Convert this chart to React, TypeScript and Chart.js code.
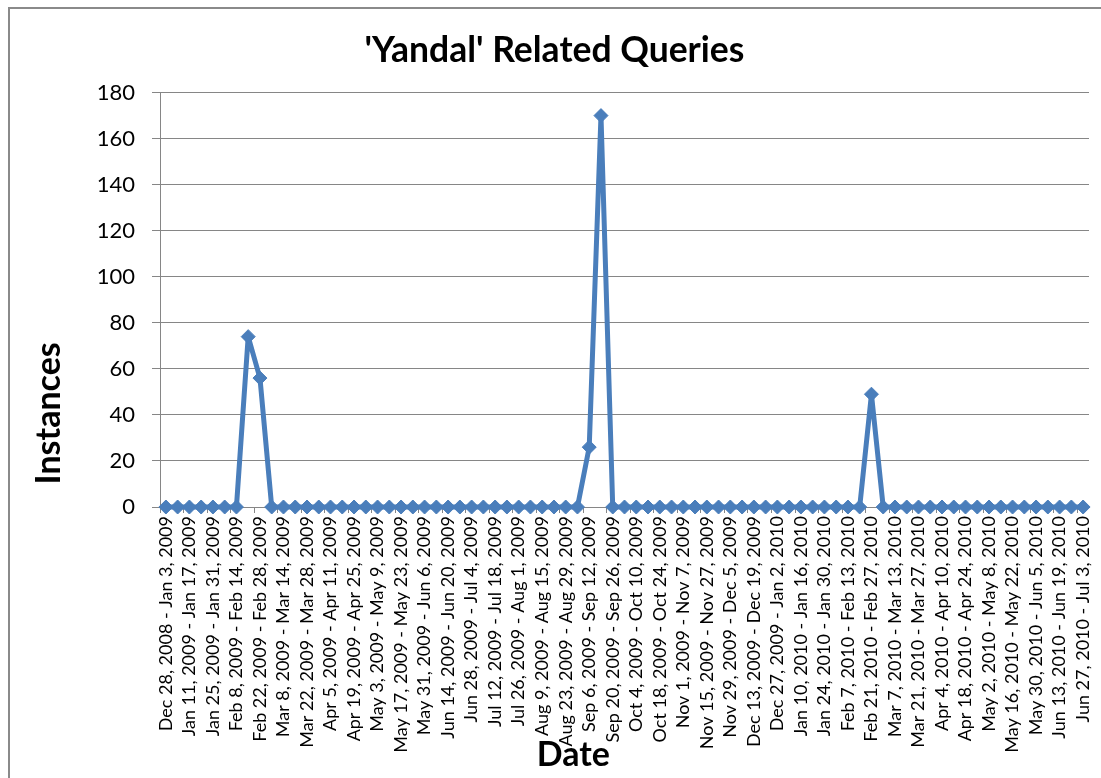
import React, { useEffect, useRef } from "react";
import { Chart, registerables } from "chart.js";

Chart.register(...registerables);

const TITLE = "'Yandal' Related Queries";
const X_TITLE = "Date";
const Y_TITLE = "Instances";

const WEEKS: string[] = [
  "Dec 28, 2008 - Jan 3, 2009",
  "Jan 4, 2009 - Jan 10, 2009",
  "Jan 11, 2009 - Jan 17, 2009",
  "Jan 18, 2009 - Jan 24, 2009",
  "Jan 25, 2009 - Jan 31, 2009",
  "Feb 1, 2009 - Feb 7, 2009",
  "Feb 8, 2009 - Feb 14, 2009",
  "Feb 15, 2009 - Feb 21, 2009",
  "Feb 22, 2009 - Feb 28, 2009",
  "Mar 1, 2009 - Mar 7, 2009",
  "Mar 8, 2009 - Mar 14, 2009",
  "Mar 15, 2009 - Mar 21, 2009",
  "Mar 22, 2009 - Mar 28, 2009",
  "Mar 29, 2009 - Apr 4, 2009",
  "Apr 5, 2009 - Apr 11, 2009",
  "Apr 12, 2009 - Apr 18, 2009",
  "Apr 19, 2009 - Apr 25, 2009",
  "Apr 26, 2009 - May 2, 2009",
  "May 3, 2009 - May 9, 2009",
  "May 10, 2009 - May 16, 2009",
  "May 17, 2009 - May 23, 2009",
  "May 24, 2009 - May 30, 2009",
  "May 31, 2009 - Jun 6, 2009",
  "Jun 7, 2009 - Jun 13, 2009",
  "Jun 14, 2009 - Jun 20, 2009",
  "Jun 21, 2009 - Jun 27, 2009",
  "Jun 28, 2009 - Jul 4, 2009",
  "Jul 5, 2009 - Jul 11, 2009",
  "Jul 12, 2009 - Jul 18, 2009",
  "Jul 19, 2009 - Jul 25, 2009",
  "Jul 26, 2009 - Aug 1, 2009",
  "Aug 2, 2009 - Aug 8, 2009",
  "Aug 9, 2009 - Aug 15, 2009",
  "Aug 16, 2009 - Aug 22, 2009",
  "Aug 23, 2009 - Aug 29, 2009",
  "Aug 30, 2009 - Sep 5, 2009",
  "Sep 6, 2009 - Sep 12, 2009",
  "Sep 13, 2009 - Sep 19, 2009",
  "Sep 20, 2009 - Sep 26, 2009",
  "Sep 27, 2009 - Oct 3, 2009",
  "Oct 4, 2009 - Oct 10, 2009",
  "Oct 11, 2009 - Oct 17, 2009",
  "Oct 18, 2009 - Oct 24, 2009",
  "Oct 25, 2009 - Oct 31, 2009",
  "Nov 1, 2009 - Nov 7, 2009",
  "Nov 8, 2009 - Nov 14, 2009",
  "Nov 15, 2009 - Nov 27, 2009",
  "Nov 22, 2009 - Nov 28, 2009",
  "Nov 29, 2009 - Dec 5, 2009",
  "Dec 6, 2009 - Dec 12, 2009",
  "Dec 13, 2009 - Dec 19, 2009",
  "Dec 20, 2009 - Dec 26, 2009",
  "Dec 27, 2009 - Jan 2, 2010",
  "Jan 3, 2010 - Jan 9, 2010",
  "Jan 10, 2010 - Jan 16, 2010",
  "Jan 17, 2010 - Jan 23, 2010",
  "Jan 24, 2010 - Jan 30, 2010",
  "Jan 31, 2010 - Feb 6, 2010",
  "Feb 7, 2010 - Feb 13, 2010",
  "Feb 14, 2010 - Feb 20, 2010",
  "Feb 21, 2010 - Feb 27, 2010",
  "Feb 28, 2010 - Mar 6, 2010",
  "Mar 7, 2010 - Mar 13, 2010",
  "Mar 14, 2010 - Mar 20, 2010",
  "Mar 21, 2010 - Mar 27, 2010",
  "Mar 28, 2010 - Apr 3, 2010",
  "Apr 4, 2010 - Apr 10, 2010",
  "Apr 11, 2010 - Apr 17, 2010",
  "Apr 18, 2010 - Apr 24, 2010",
  "Apr 25, 2010 - May 1, 2010",
  "May 2, 2010 - May 8, 2010",
  "May 9, 2010 - May 15, 2010",
  "May 16, 2010 - May 22, 2010",
  "May 23, 2010 - May 29, 2010",
  "May 30, 2010 - Jun 5, 2010",
  "Jun 6, 2010 - Jun 12, 2010",
  "Jun 13, 2010 - Jun 19, 2010",
  "Jun 20, 2010 - Jun 26, 2010",
  "Jun 27, 2010 - Jul 3, 2010",
];

const INSTANCES: number[] = [
  0, 0, 0, 0, 0, 0, 0, 74, 56, 0,
  0, 0, 0, 0, 0, 0, 0, 0, 0, 0,
  0, 0, 0, 0, 0, 0, 0, 0, 0, 0,
  0, 0, 0, 0, 0, 0, 26, 170, 0, 0,
  0, 0, 0, 0, 0, 0, 0, 0, 0, 0,
  0, 0, 0, 0, 0, 0, 0, 0, 0, 0,
  49, 0, 0, 0, 0, 0, 0, 0, 0, 0,
  0, 0, 0, 0, 0, 0, 0, 0, 0,
];

const Y_MIN = 0;
const Y_MAX = 180;
const Y_STEP = 20;

const LINE_COLOR = "#4A7EBB";
const GRID_COLOR = "#868686";
const FONT = "Lato, 'Noto Sans', sans-serif";

// Draws the two axis titles where the reference places them (manually positioned in the original).
const axisTitlesPlugin = {
  id: "axisTitles",
  afterDraw(chart: any) {
    const ctx = chart.ctx as CanvasRenderingContext2D;
    const area = chart.chartArea;
    ctx.save();
    ctx.fillStyle = "#000";
    ctx.font = `bold 34px ${FONT}`;
    ctx.textAlign = "center";
    ctx.textBaseline = "middle";
    // X title
    ctx.fillText(X_TITLE, area.left + (area.right - area.left) * 0.445, chart.height - 23);
    // Y title
    ctx.translate(49, area.top + (area.bottom - area.top) * 0.774);
    ctx.rotate(-Math.PI / 2);
    ctx.fillText(Y_TITLE, 0, 0);
    ctx.restore();
  },
};

export default function App() {
  const canvasRef = useRef<HTMLCanvasElement | null>(null);

  useEffect(() => {
    const canvas = canvasRef.current;
    if (!canvas) return;
    const chart = new Chart(canvas, {
      type: "line",
      data: {
        labels: WEEKS,
        datasets: [
          {
            label: "Instances",
            data: INSTANCES,
            borderColor: LINE_COLOR,
            backgroundColor: LINE_COLOR,
            borderWidth: 5,
            borderJoinStyle: "bevel",
            pointStyle: "rectRot",
            pointRadius: 7,
            pointBorderWidth: 1,
            pointBackgroundColor: LINE_COLOR,
            pointBorderColor: LINE_COLOR,
            tension: 0,
            clip: false as any,
          },
        ],
      },
      options: {
        responsive: false,
        animation: false,
        layout: { padding: { left: 20, right: 12, top: 0, bottom: 0 } },
        plugins: {
          legend: { display: false },
          tooltip: { enabled: false },
          title: {
            display: true,
            text: TITLE,
            color: "#000",
            font: { family: FONT, size: 35.5, weight: "bold" },
            padding: { top: 29, bottom: 21 },
          },
        },
        scales: {
          x: {
            type: "category",
            offset: true,
            grid: {
              display: true,
              drawOnChartArea: false,
              drawTicks: true,
              tickLength: 6,
              offset: true,
              color: (ctx: any) =>
                ctx.index % 2 === 0 ? GRID_COLOR : "rgba(0,0,0,0)",
            },
            border: { display: true, color: GRID_COLOR, width: 1 },
            ticks: {
              autoSkip: false,
              minRotation: 90,
              maxRotation: 90,
              padding: 3,
              color: "#000",
              font: { family: FONT, size: 18 },
              callback: (_v: any, i: number) => (i % 2 === 0 ? WEEKS[i] : ""),
            },
            afterFit: (s: any) => {
              s.height = 271;
              s.paddingRight = 0;
              s.paddingLeft = 0;
            },
          },
          y: {
            min: Y_MIN,
            max: Y_MAX,
            ticks: {
              stepSize: Y_STEP,
              padding: 17,
              color: "#000",
              font: { family: FONT, size: 22 },
            },
            grid: { color: GRID_COLOR, lineWidth: 1, tickLength: 8 },
            border: { display: true, color: GRID_COLOR, width: 1 },
            afterFit: (s: any) => {
              s.width = 140;
            },
          },
        },
      },
      plugins: [axisTitlesPlugin],
    });
    return () => chart.destroy();
  }, []);

  return (
    <>
      <div
        style={{
          position: "fixed",
          left: 8,
          top: 7,
          width: 1093,
          height: 771,
          borderLeft: "2px solid #8a8a8a",
          borderTop: "2px solid #8a8a8a",
          boxSizing: "border-box",
        }}
      />
      <canvas
        ref={canvasRef}
        width={1101}
        height={778}
        style={{ position: "fixed", left: 0, top: 0, display: "block" }}
      />
    </>
  );
}
